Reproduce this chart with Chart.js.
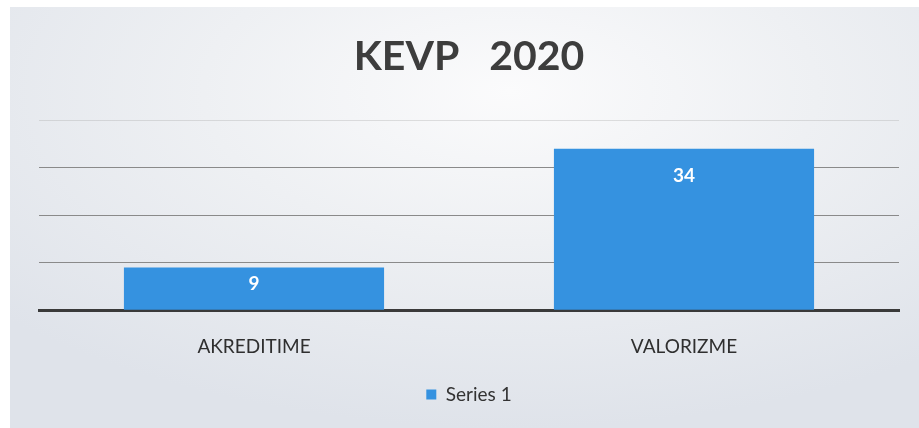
<!DOCTYPE html>
<html><head><meta charset="utf-8">
<script src="https://cdn.jsdelivr.net/npm/chart.js@4"></script>
<style>
html,body{margin:0;padding:0;background:#fff;width:919px;height:428px;overflow:hidden}
#bg{position:absolute;left:10px;top:7px;right:0;bottom:0;
  background:radial-gradient(ellipse 75% 80% at 55% 20%, #fbfbfc 0%, #eef0f3 45%, #dfe3ea 100%);}
#wrap{position:absolute;left:0;top:0;width:919px;height:428px}
</style></head><body>
<div id="bg"></div>
<div id="wrap"><canvas id="c" width="919" height="428"></canvas></div>
<script>
const categories = ['AKREDITIME', 'VALORIZME'];
const seriesName = 'Series 1';
const values = [9, 34];
const yTicks = [0, 10, 20, 30, 40];
const titleText = 'KEVP   2020';

const FONT = 'Lato';

const valueLabels = {
  id: 'valueLabels',
  afterDatasetsDraw(chart) {
    const ctx = chart.ctx;
    const meta = chart.getDatasetMeta(0);
    ctx.save();
    ctx.fillStyle = '#ffffff';
    ctx.font = 'bold 19px ' + FONT;
    ctx.textAlign = 'center';
    ctx.textBaseline = 'middle';
    meta.data.forEach((bar, i) => {
      const h = bar.base - bar.y;
      const off = Math.min(27, h / 2 - 5);
      ctx.fillText(String(values[i]), bar.x, bar.y + off);
    });
    ctx.restore();
  }
};

new Chart(document.getElementById('c'), {
  type: 'bar',
  data: {
    labels: categories,
    datasets: [{
      label: seriesName,
      data: values,
      backgroundColor: '#3592e0',
      borderWidth: 0,
      barPercentage: 0.605,
      categoryPercentage: 1.0
    }]
  },
  options: {
    responsive: false,
    animation: false,
    layout: { padding: { left: 39, right: 20, top: 0, bottom: 14 } },
    plugins: {
      title: {
        display: true,
        text: titleText,
        color: '#3d3d3d',
        font: { family: FONT, size: 41, weight: 'bold' },
        padding: { top: 32, bottom: 39 }
      },
      legend: {
        position: 'bottom',
        labels: {
          color: '#333333',
          font: { family: FONT, size: 19 },
          boxWidth: 10,
          boxHeight: 10,
          padding: 10
        }
      },
      tooltip: { enabled: false }
    },
    scales: {
      x: {
        grid: { display: false },
        border: { display: true, color: '#3a3a3a', width: 3 },
        ticks: { color: '#2f2f2f', font: { family: FONT, size: 19 }, padding: 17 }
      },
      y: {
        min: 0,
        max: 40,
        afterBuildTicks: (axis) => { axis.ticks = yTicks.map(v => ({ value: v })); },
        ticks: { display: false },
        border: { display: false },
        grid: {
          drawTicks: false,
          lineWidth: 1,
          color: (c) => c.tick && c.tick.value === 40 ? 'rgba(170,170,170,0.35)' : (c.tick && c.tick.value === 0 ? 'rgba(0,0,0,0)' : '#8a8a8a')
        }
      }
    }
  },
  plugins: [valueLabels]
});
</script>
</body></html>
